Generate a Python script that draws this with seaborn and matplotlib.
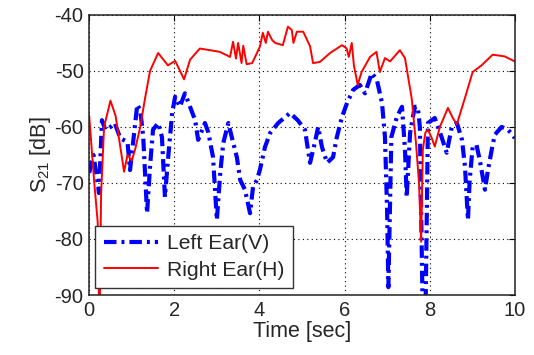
import numpy as np
import pandas as pd
import matplotlib
matplotlib.use("Agg")
import matplotlib.pyplot as plt
import seaborn as sns

# Right ear (H), red solid
red_t = [0, 0.05, 0.12, 0.2, 0.23, 0.25, 0.28, 0.35, 0.5, 0.62,
         0.72, 0.82, 0.9, 1.0, 1.08, 1.2, 1.31, 1.43, 1.62, 1.85,
         2.02, 2.23, 2.37, 2.6, 2.84, 3.07, 3.31, 3.38, 3.45, 3.5,
         3.58, 3.62, 3.7, 3.83, 4.01, 4.08, 4.15, 4.2, 4.3, 4.37,
         4.55, 4.67, 4.76, 4.8, 4.88, 5.03, 5.19, 5.26, 5.42, 5.66,
         5.94, 6.05, 6.1, 6.17, 6.22, 6.31, 6.4, 6.6, 6.75, 6.83,
         6.95, 7.07, 7.3, 7.42, 7.58, 7.68, 7.75, 7.8, 7.84, 7.9,
         7.96, 8.05, 8.12, 8.24, 8.43, 8.55, 8.64, 8.83, 9.01, 9.22,
         9.48, 9.76, 10]
red_db = [-58, -63, -70, -77, -91, -91, -72, -60, -55.3, -58,
          -63, -68, -65, -66, -64, -60, -55, -50, -46.8, -49,
          -48.2, -51.5, -48, -46, -46.3, -46.6, -47.5, -44.8, -47.8, -45,
          -48.6, -45.5, -48.8, -48.6, -45.7, -43.2, -45, -43, -44.5, -45,
          -45.4, -42.1, -42.7, -45, -43, -43, -45.6, -48.6, -48.4, -46.8,
          -45.4, -46, -47.5, -45, -49, -52.5, -50.2, -47.5, -46.6, -50.2,
          -47.7, -48.3, -46.3, -47.7, -55, -63, -70, -80.5, -64, -61,
          -60.5, -62, -63.5, -60, -56.6, -58.5, -59.5, -54.8, -50.2, -49,
          -47.1, -47.4, -48.3]

# Left ear (V), blue dash-dot
blue_t = [0, 0.1, 0.2, 0.23, 0.3, 0.38, 0.5, 0.6, 0.73, 0.9,
          0.96, 1.03, 1.13, 1.2, 1.27, 1.36, 1.43, 1.5, 1.62, 1.71,
          1.78, 1.85, 1.95, 2.02, 2.13, 2.25, 2.37, 2.49, 2.56, 2.72,
          2.8, 2.91, 3.0, 3.08, 3.15, 3.27, 3.35, 3.47, 3.55, 3.66,
          3.78, 3.85, 3.94, 4.01, 4.13, 4.25, 4.44, 4.72, 4.9, 5.07,
          5.14, 5.19, 5.3, 5.38, 5.47, 5.59, 5.73, 5.82, 5.94, 6.06,
          6.2, 6.36, 6.48, 6.64, 6.76, 6.88, 6.95, 7.0, 7.03, 7.1,
          7.23, 7.35, 7.42, 7.46, 7.54, 7.65, 7.72, 7.77, 7.84, 7.9,
          7.96, 8.12, 8.28, 8.4, 8.52, 8.64, 8.76, 8.83, 8.9, 8.94,
          9.01, 9.1, 9.18, 9.3, 9.37, 9.46, 9.53, 9.69, 9.84, 9.95,
          10]
blue_db = [-68.2, -65, -70, -71.8, -58.8, -60.5, -60, -59.3, -62, -62.7,
           -67.7, -62.9, -56, -57, -61.8, -75.4, -67, -60.5, -59.3, -61.8,
           -72.5, -66, -57.5, -54.6, -56.4, -54, -56.4, -58.8, -62.3, -59.3,
           -61, -65.4, -76.6, -68.2, -62.9, -59.3, -61.8, -65.4, -69.5, -71.2,
           -75.4, -70.7, -69.5, -67.7, -63.6, -61.1, -59.3, -57.5, -58.8, -60.5,
           -64, -66.4, -62.9, -60, -63.6, -66.4, -65.4, -61.8, -58.2, -55.7,
           -53.4, -52.5, -54, -50.4, -51.6, -55.7, -61.8, -74.8, -88.6, -61.8,
           -58.2, -56.4, -64, -72.5, -61.1, -56.4, -56.4, -60, -95, -95,
           -59.3, -58.4, -61.8, -64.6, -60, -59.3, -62.3, -67.1, -76.6, -69.5,
           -63.6, -63.2, -66, -71.2, -67.7, -64, -61.4, -60, -60.5, -61.4,
           -62]

x_ticks = [0, 2, 4, 6, 8, 10]
y_ticks = [-90, -80, -70, -60, -50, -40]

sns.set_style("white")
plt.rcParams["font.family"] = ["Liberation Sans", "DejaVu Sans"]
plt.rcParams["mathtext.default"] = "regular"
plt.rcParams["axes.unicode_minus"] = False

fig = plt.figure(figsize=(5.34, 3.55), dpi=100)
ax = fig.add_axes([0.167, 0.169, 0.797, 0.789])

blue = pd.DataFrame({"t": blue_t, "db": blue_db})
red = pd.DataFrame({"t": red_t, "db": red_db})

sns.lineplot(data=blue, x="t", y="db", ax=ax, color="#0000ff", linewidth=3.0,
             sort=False, estimator=None, label="Left Ear(V)")
sns.lineplot(data=red, x="t", y="db", ax=ax, color="#ff0000", linewidth=1.4,
             sort=False, estimator=None, label="Right Ear(H)")
ax.lines[0].set_dashes((3, 1.2, 0.7, 1.2))

ax.set_xlim(0, 10)
ax.set_ylim(-90, -40)
ax.set_xticks(x_ticks)
ax.set_yticks(y_ticks)
ax.grid(True, color="black", linestyle=(0, (1, 3)), linewidth=0.8)
ax.tick_params(direction="in", top=True, right=True, labelsize=14.5,
               length=4, color="black", pad=4)
for s in ax.spines.values():
    s.set_color("#222222")
    s.set_linewidth(1.1)

ax.set_xlabel("Time [sec]", fontsize=15.5, labelpad=1)
ax.set_ylabel(r"S$_{21}$ [dB]", fontsize=15.5, labelpad=1)

leg = ax.legend(loc="lower left", bbox_to_anchor=(0.014, 0.025), borderaxespad=0,
                fancybox=False, framealpha=1, edgecolor="#333333", fontsize=15.2,
                handlelength=2.6, handletextpad=0.4, borderpad=0.4, labelspacing=0.35)
leg.get_frame().set_linewidth(1.0)

fig.savefig("out.png", dpi=100)
